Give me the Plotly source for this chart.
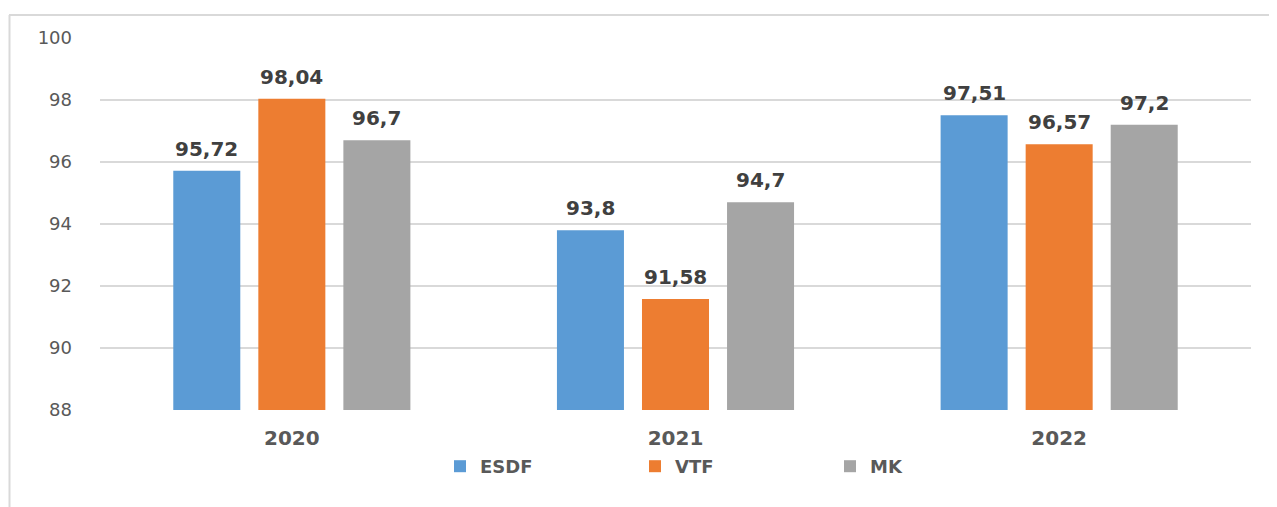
import plotly.graph_objects as go

years = ["2020", "2021", "2022"]
esdf = [95.72, 93.8, 97.51]
vtf = [98.04, 91.58, 96.57]
mk = [96.7, 94.7, 97.2]
series_names = ["ESDF", "VTF", "MK"]
colors = ["#5B9BD5", "#ED7D31", "#A5A5A5"]
y_ticks = [88, 90, 92, 94, 96, 98, 100]

OFF = 8  # page offset of the figure
W, H = 1277 - OFF, 507 - OFF
L, T = 100 - OFF, 38 - OFF
R, B = W - (1251 - OFF), H - (410 - OFF)
pw, ph = W - L - R, H - T - B

def px_x(sx):
    return (sx - OFF - L) / pw

def px_y(sy):
    return 1 - (sy - OFF - T) / ph

fig = go.Figure()
annotations = []
for i, (name, vals, col) in enumerate(zip(series_names, [esdf, vtf, mk], colors)):
    fig.add_trace(go.Bar(
        name=name, x=years, y=vals, marker=dict(color=col, line=dict(width=0)),
        offsetgroup=str(i),
    ))

fig.update_layout(
    width=W, height=H,
    margin=dict(l=L, r=R, t=T, b=B, autoexpand=False),
    paper_bgcolor="white", plot_bgcolor="white",
    barmode="group", bargap=0.335, bargroupgap=0.212,
    font=dict(family="DejaVu Sans"),
    showlegend=True,
    legend=dict(orientation="h", x=px_x(440), xanchor="left", y=px_y(448), yanchor="top",
                entrywidth=150, entrywidthmode="pixels",
                font=dict(family="DejaVu Sans", size=18, color="#595959", weight="bold"),
                itemclick=False),
    xaxis=dict(showgrid=False, showline=False, ticks="", ticklabelstandoff=14,
               tickfont=dict(family="DejaVu Sans", size=20, color="#595959", weight="bold")),
    yaxis=dict(range=[88, 100], tickvals=y_ticks, showgrid=True, gridcolor="#D9D9D9", gridwidth=1.5,
               zeroline=False, showline=False, ticks="", ticklabelstandoff=27,
               tickfont=dict(family="DejaVu Sans", size=18, color="#595959")),
    shapes=[
        dict(type="line", xref="paper", yref="paper", x0=px_x(9), x1=px_x(1290), y0=px_y(15), y1=px_y(15),
             line=dict(color="#D9D9D9", width=2)),
        dict(type="line", xref="paper", yref="paper", x0=px_x(9.5), x1=px_x(9.5), y0=px_y(15), y1=px_y(520),
             line=dict(color="#D9D9D9", width=2)),
    ],
)

# data labels above bars
slot = (1 - 0.335) / 3
for i, vals in enumerate([esdf, vtf, mk]):
    for j, v in enumerate(vals):
        annotations.append(dict(
            x=j + (i - 1) * slot, y=v, xref="x", yref="y",
            text=f"{v:g}".replace(".", ","), showarrow=False,
            yanchor="bottom", yshift=8,
            font=dict(family="DejaVu Sans", size=20, color="#404040", weight="bold"),
        ))
fig.update_layout(annotations=annotations)

fig.write_html("out.html")
